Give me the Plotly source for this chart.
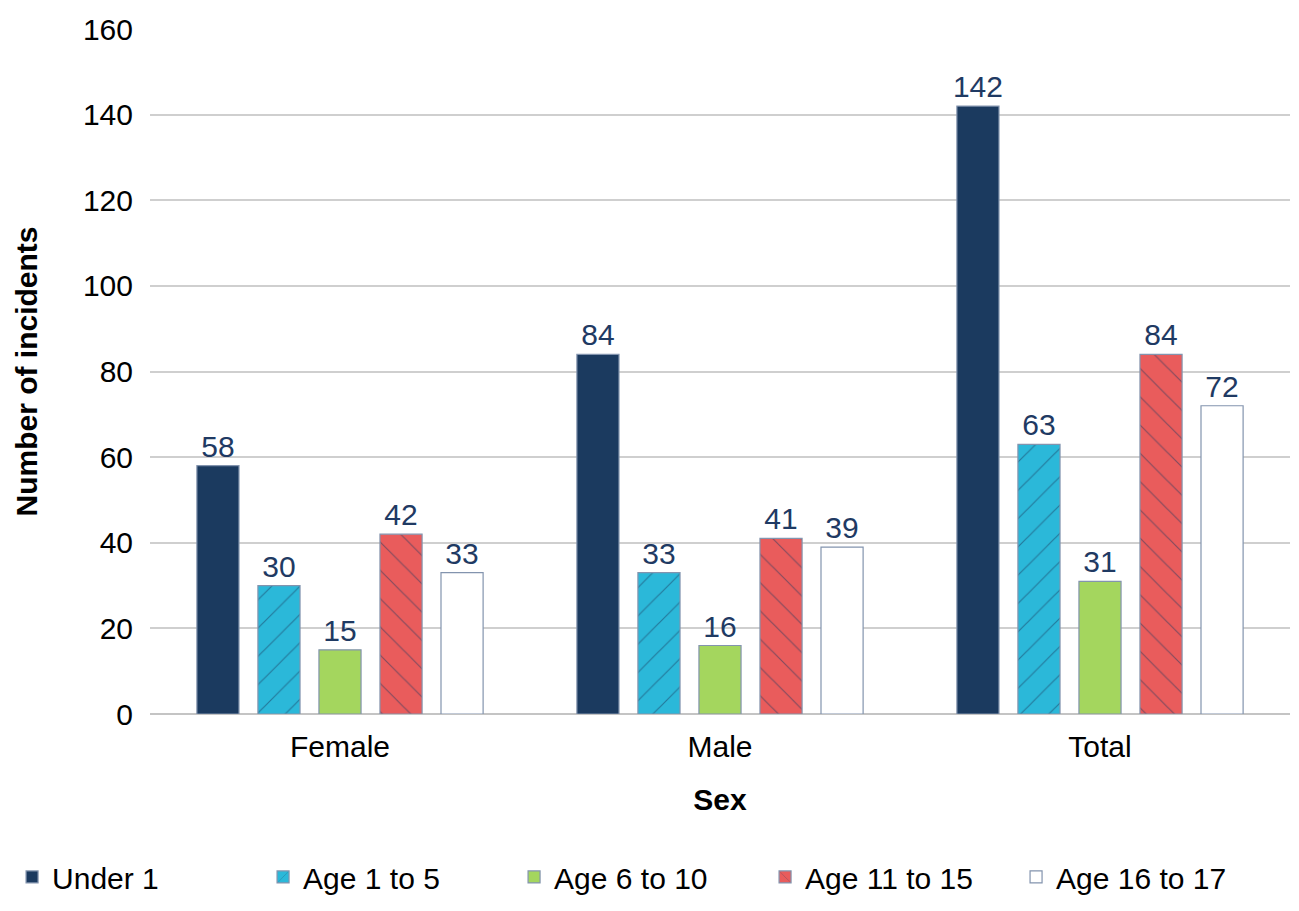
import plotly.graph_objects as go

# Incidents by sex and age band
categories = ["Female", "Male", "Total"]
under_1 = [58, 84, 142]
age_1_to_5 = [30, 33, 63]
age_6_to_10 = [15, 16, 31]
age_11_to_15 = [42, 41, 84]
age_16_to_17 = [33, 39, 72]

y_ticks = [0, 20, 40, 60, 80, 100, 120, 140, 160]

NAVY = "#1b3a5f"
LABEL = "#1f3a63"
OUTLINE = "#8394ae"
FONT = "Liberation Sans, Arial, sans-serif"
SIZE = 30

series = [
    ("Under 1", under_1, NAVY, None),
    ("Age 1 to 5", age_1_to_5, "#2bb8d9", "/"),
    ("Age 6 to 10", age_6_to_10, "#a4d65e", None),
    ("Age 11 to 15", age_11_to_15, "#e95c5c", "\\"),
    ("Age 16 to 17", age_16_to_17, "#ffffff", None),
]

fig = go.Figure()
for name, values, color, hatch in series:
    marker = dict(color=color, line=dict(color=OUTLINE, width=1.2))
    if hatch:
        marker["pattern"] = dict(shape=hatch, fgcolor=NAVY, size=20, solidity=0.06)
    fig.add_trace(go.Bar(
        name=name,
        x=categories,
        y=values,
        marker=marker,
        text=[str(v) for v in values],
        textposition="outside",
        constraintext="none",
        textfont=dict(family=FONT, size=SIZE, color=LABEL),
        cliponaxis=False,
    ))

fig.update_layout(
    width=1299,
    height=911,
    margin=dict(l=150, r=9, t=29, b=196),
    paper_bgcolor="white",
    plot_bgcolor="white",
    barmode="group",
    bargap=0.197,
    bargroupgap=0.31,
    font=dict(family=FONT, size=SIZE, color="#000000"),
    showlegend=True,
    legend=dict(
        orientation="h",
        x=-0.121,
        xanchor="left",
        y=-0.274,
        yanchor="bottom",
        font=dict(family=FONT, size=SIZE, color="#000000"),
        entrywidth=206,
        entrywidthmode="pixels",
        traceorder="normal",
    ),
    xaxis=dict(
        title=dict(text="<b>Sex</b>", font=dict(family=FONT, size=SIZE), standoff=26),
        tickfont=dict(family=FONT, size=SIZE),
        showline=False,
        ticks="",
        ticklabelstandoff=12,
    ),
    yaxis=dict(
        title=dict(text="<b>Number of incidents</b>", font=dict(family=FONT, size=SIZE), standoff=36),
        range=[0, 160],
        tickvals=y_ticks,
        tickfont=dict(family=FONT, size=SIZE),
        showgrid=True,
        gridcolor="#cfcfcf",
        gridwidth=1.5,
        zeroline=True,
        zerolinecolor="#c4c4c4",
        zerolinewidth=1.5,
        ticks="",
        ticklabelstandoff=16,
    ),
)

fig.write_html("out.html")
